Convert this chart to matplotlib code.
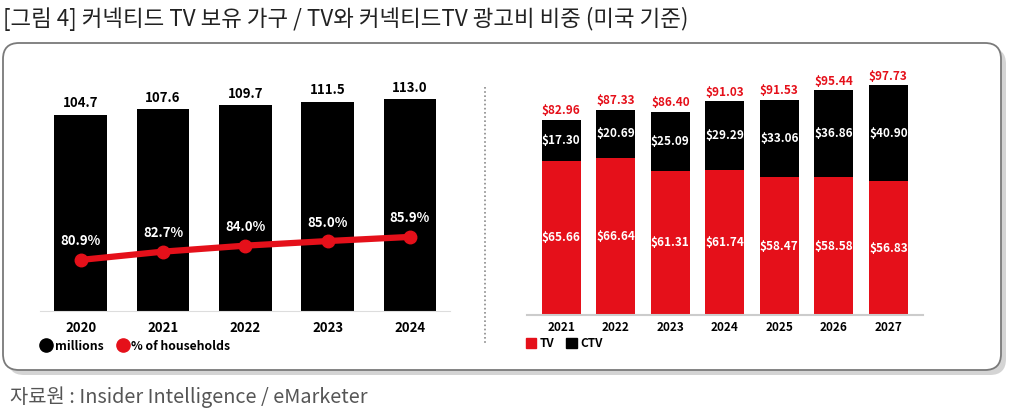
import numpy as np
import matplotlib.pyplot as plt
from matplotlib.patches import FancyBboxPatch
from matplotlib.lines import Line2D
from matplotlib.patches import Patch

plt.rcParams['font.family'] = ['Noto Sans CJK KR', 'DejaVu Sans']

# left chart: connected TV households
years_l = ['2020', '2021', '2022', '2023', '2024']
households = [104.7, 107.6, 109.7, 111.5, 113.0]
share_pct = [80.9, 82.7, 84.0, 85.0, 85.9]

# right chart: TV / CTV ad spend (billions)
years_r = ['2021', '2022', '2023', '2024', '2025', '2026', '2027']
tv_spend = [65.66, 66.64, 61.31, 61.74, 58.47, 58.58, 56.83]
ctv_spend = [17.30, 20.69, 25.09, 29.29, 33.06, 36.86, 40.90]
total_spend = [82.96, 87.33, 86.40, 91.03, 91.53, 95.44, 97.73]

title = '[그림 4] 커넥티드 TV 보유 가구 / TV와 커넥티드TV 광고비 비중 (미국 기준)'
source = '자료원 : Insider Intelligence / eMarketer'

RED = '#e5101a'
W, H = 1010, 419

fig = plt.figure(figsize=(W / 100, H / 100), dpi=100)

# background layer in pixel coords (box, shadow, divider, texts)
bg = fig.add_axes([0, 0, 1, 1])
bg.set_xlim(0, W)
bg.set_ylim(H, 0)
bg.axis('off')
bg.add_patch(FancyBboxPatch((8, 48), 998, 327, boxstyle='round,pad=0,rounding_size=16',
                            fc='#d4d4d4', ec='none', zorder=1))
bg.add_patch(FancyBboxPatch((3, 43), 998, 327, boxstyle='round,pad=0,rounding_size=16',
                            fc='white', ec='#7a7a7a', lw=1.3, zorder=2))
bg.plot([485, 485], [87, 343], color='#8a8a8a', lw=1.2, ls=(0, (1, 1.5)), zorder=3)
bg.text(3, 19, title, fontsize=16.1, va='center', ha='left', color='#222222')
bg.text(10, 397, source, fontsize=14.3, va='center', ha='left', color='#555555')


def px_axes(x0, x1, ytop, ybot):
    return fig.add_axes([x0 / W, 1 - ybot / H, (x1 - x0) / W, (ybot - ytop) / H])


# ---- left chart ----
ax1 = px_axes(40, 450, 80, 311)
ax1.set_facecolor('none')
xl = np.arange(len(years_l))
ax1.bar(xl, households, width=0.64, color='black', zorder=2)
ax1.set_xlim(-0.495, 4.487)
ax1.set_ylim(0, 123.3)
for i, v in enumerate(households):
    ax1.text(i, v + 2.5, f'{v:.1f}', ha='center', va='bottom', fontsize=9.5,
             fontweight='bold', color='black')
ax1.set_xticks(xl)
ax1.set_xticklabels(years_l, fontsize=9.5, fontweight='bold')
ax1.tick_params(axis='x', length=0, pad=7)
ax1.set_yticks([])
for s in ['top', 'left', 'right']:
    ax1.spines[s].set_visible(False)
ax1.spines['bottom'].set_color('#dddddd')

ax1b = ax1.twinx()
ax1b.plot(xl, share_pct, color=RED, lw=4.5, marker='o', markersize=9, zorder=3)
ax1b.set_ylim(69.8, 120.0)
ax1b.axis('off')
for i, v in enumerate(share_pct):
    ax1b.text(i, v + 2.5, f'{v:.1f}%', ha='center', va='bottom', fontsize=9.5,
              fontweight='bold', color='white')

h1 = [Line2D([], [], ls='none', marker='o', color='black', markersize=9.5),
      Line2D([], [], ls='none', marker='o', color=RED, markersize=9.5)]
ax1.legend(h1, ['millions', '% of households'], loc='center left',
           bbox_to_anchor=(-0.03, -0.152), ncol=2, frameon=False, handletextpad=0.1,
           columnspacing=1.0, handlelength=1.2, prop={'weight': 'bold', 'size': 8.8})

# ---- right chart ----
ax2 = px_axes(527, 923, 80, 315)
ax2.set_facecolor('none')
xr = np.arange(len(years_r))
ax2.bar(xr, tv_spend, width=0.72, color=RED, zorder=2)
ax2.bar(xr, ctv_spend, bottom=tv_spend, width=0.72, color='black', zorder=2)
ax2.set_xlim(-0.629, 6.637)
ax2.set_ylim(0, 99.9)
for i in range(len(years_r)):
    ax2.text(i, tv_spend[i] / 2, f'${tv_spend[i]:.2f}', ha='center', va='center',
             fontsize=8.5, fontweight='bold', color='white')
    ax2.text(i, tv_spend[i] + ctv_spend[i] / 2, f'${ctv_spend[i]:.2f}', ha='center',
             va='center', fontsize=8.5, fontweight='bold', color='white')
    ax2.text(i, total_spend[i] + 1.0, f'${total_spend[i]:.2f}', ha='center', va='bottom',
             fontsize=8.5, fontweight='bold', color=RED, clip_on=False)
ax2.set_xticks(xr)
ax2.set_xticklabels(years_r, fontsize=8.5, fontweight='bold')
ax2.tick_params(axis='x', length=0, pad=4)
ax2.set_yticks([])
for s in ['top', 'left', 'right']:
    ax2.spines[s].set_visible(False)
ax2.spines['bottom'].set_color('#cccccc')
ax2.spines['bottom'].set_linewidth(1.5)

h2 = [Patch(color=RED), Patch(color='black')]
ax2.legend(h2, ['TV', 'CTV'], loc='center left', bbox_to_anchor=(-0.03, -0.12),
           ncol=2, frameon=False, handletextpad=0.3, columnspacing=1.0,
           handlelength=0.9, handleheight=0.9, prop={'weight': 'bold', 'size': 8.5})

fig.savefig('out.png', dpi=100)
